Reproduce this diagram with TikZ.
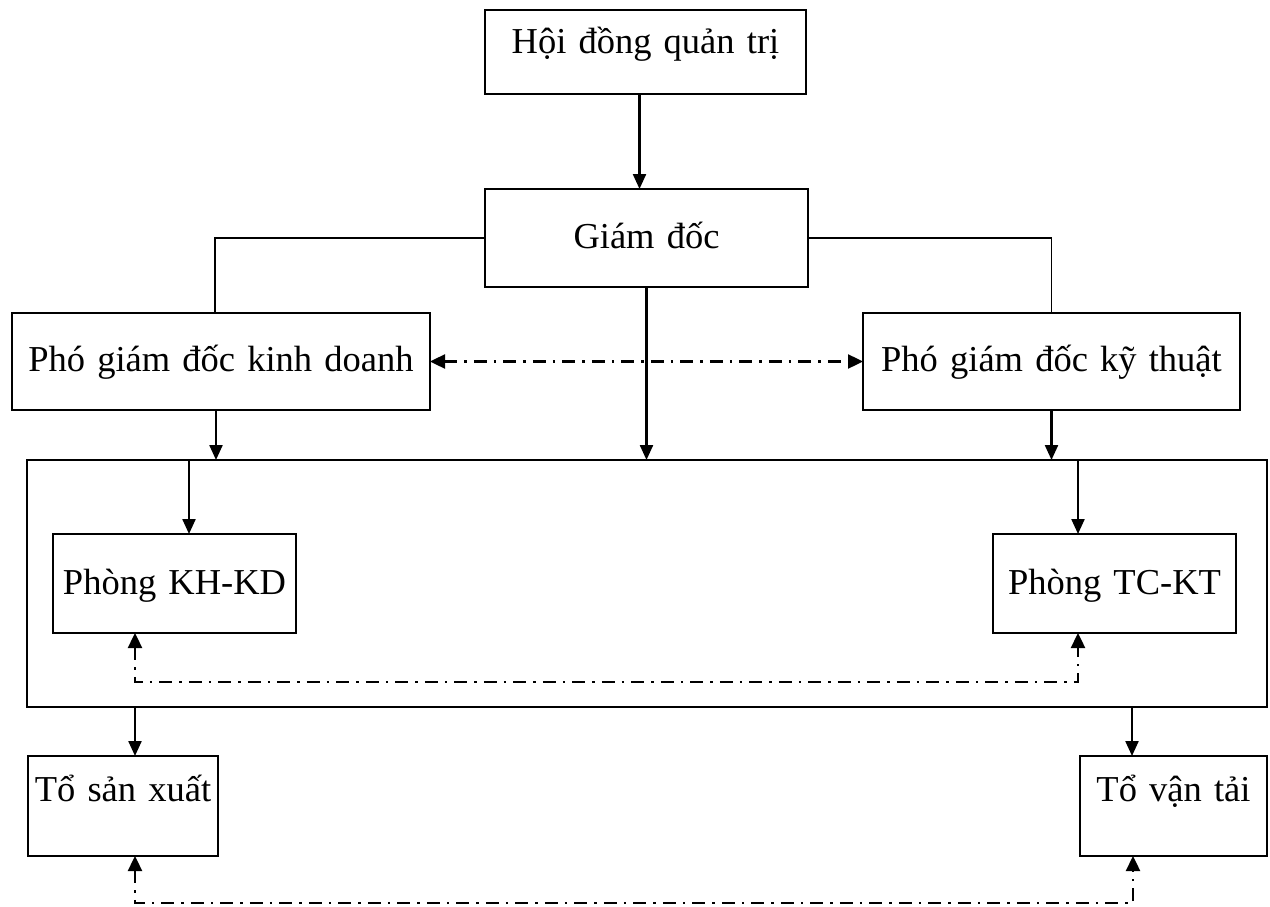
\documentclass[tikz,border=0pt]{standalone}
\usepackage{fontspec}
\setmainfont{Liberation Serif}
\usetikzlibrary{arrows.meta}
\begin{document}
\begin{tikzpicture}[x=1pt,y=-1pt,
  boxstyle/.style={draw, line width=2.2pt, inner sep=0pt, outer sep=0pt, anchor=north west,
    align=center, font=\fontsize{36.5}{44}\selectfont},
  frame/.style={draw, line width=2.2pt, inner sep=0pt, outer sep=0pt, anchor=north west},
  arr/.style={line width=2.3pt, -{Triangle[length=15pt,width=13pt]}},
  link/.style={line width=1.8pt},
  dashdot/.style={line width=2.4pt, dash pattern=on 13pt off 7pt on 2.5pt off 7pt,
    {Triangle[length=15pt,width=14pt]}-{Triangle[length=15pt,width=14pt]}}]
\useasboundingbox (0,0) rectangle (1270,907);

% management levels
\node[boxstyle, text width=321pt, text height=44pt, text depth=40pt] (hdqt) at (485,10) {Hội đồng quản trị};
\node[boxstyle, text width=323pt, text height=59pt, text depth=39pt] (gd) at (485,189) {Giám đốc};
\node[boxstyle, text width=418pt, text height=58pt, text depth=39pt] (pkd) at (12,313) {Phó giám đốc kinh doanh};
\node[boxstyle, text width=377pt, text height=58pt, text depth=39pt] (pkt) at (863,313) {Phó giám đốc kỹ thuật};

% departments frame
\node[frame, minimum width=1240pt, minimum height=247pt] (big) at (27,460) {};
\node[boxstyle, text width=243pt, text height=60pt, text depth=39pt] (khkd) at (53,534) {Phòng KH-KD};
\node[boxstyle, text width=243pt, text height=60pt, text depth=39pt] (tckt) at (993,534) {Phòng TC-KT};

% teams
\node[boxstyle, text width=190pt, text height=45pt, text depth=55pt] (tsx) at (28,756) {Tổ sản xuất};
\node[boxstyle, text width=187pt, text height=45pt, text depth=55pt] (tvt) at (1080,756) {Tổ vận tải};

% solid connectors
\draw[arr] ([xshift=-6pt]hdqt.south) -- ([xshift=-6pt]hdqt.south |- gd.north);
\draw[link] (gd.west) -| ([xshift=-6pt]pkd.north);
\draw[link] (gd.east) -| (pkt.north);
\draw[arr] (gd.south) -- (gd.south |- big.north);
\draw[arr] ([xshift=-5pt]pkd.south) -- ([xshift=-5pt]pkd.south |- big.north);
\draw[arr] (pkt.south) -- (pkt.south |- big.north);
\draw[arr] ([xshift=14.5pt]khkd.north |- big.north) -- ([xshift=14.5pt]khkd.north);
\draw[arr] ([xshift=-36.5pt]tckt.north |- big.north) -- ([xshift=-36.5pt]tckt.north);
\draw[arr] ([xshift=12pt]tsx.north |- big.south) -- ([xshift=12pt]tsx.north);
\draw[arr] ([xshift=-41.5pt]tvt.north |- big.south) -- ([xshift=-41.5pt]tvt.north);

% dash-dot coordination links
\draw[dashdot] (pkd.east) -- (pkt.west);
\draw[dashdot] ([xshift=-39.5pt]khkd.south) -- ++(0,49) -| ([xshift=-36.5pt]tckt.south);
\draw[dashdot] ([xshift=12pt]tsx.south) -- ++(0,47) -| ([xshift=-40.5pt]tvt.south);
\end{tikzpicture}
\end{document}
